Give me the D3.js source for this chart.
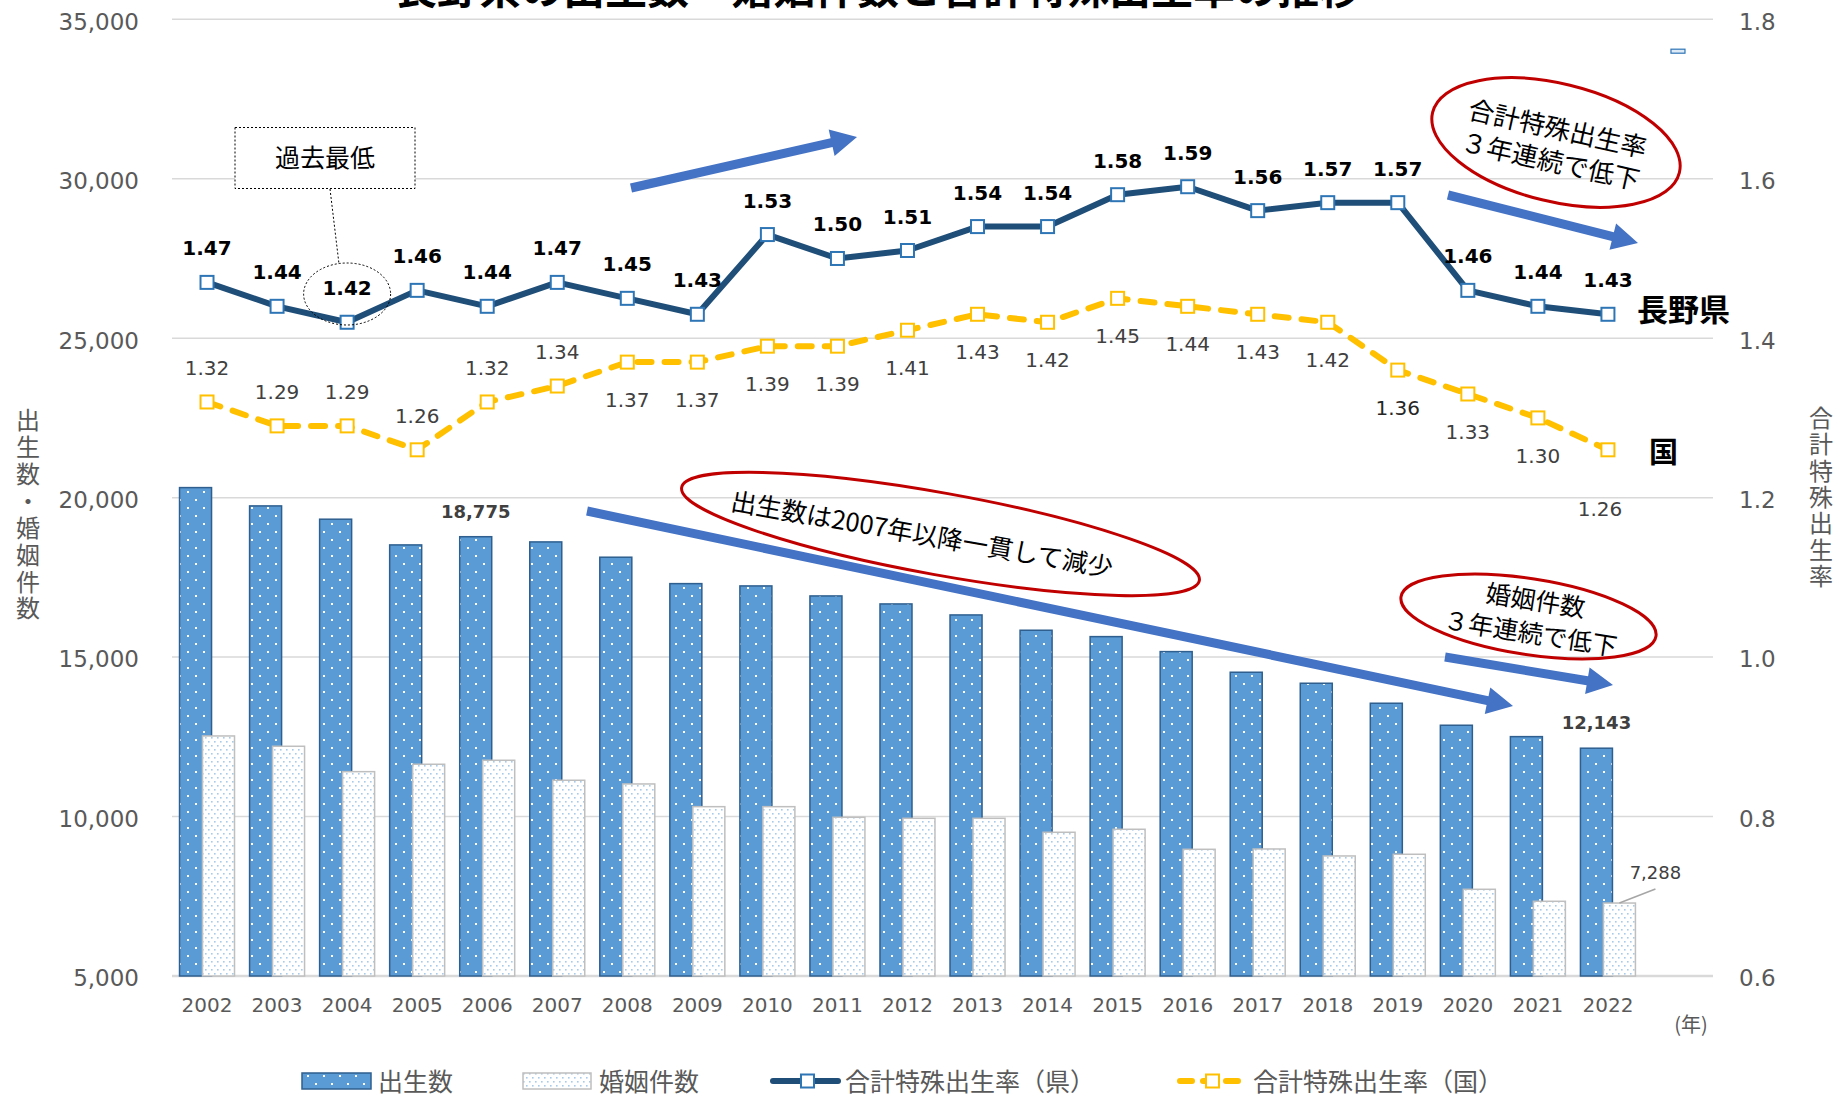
<!DOCTYPE html>
<html><head><meta charset="utf-8">
<script src="https://cdn.jsdelivr.net/npm/d3@7"></script>
<style>
html,body{margin:0;padding:0;background:#fff;}
svg{display:block;}
</style></head><body>
<svg id="chart" width="1845" height="1104"></svg>
<script>
// ---------------- data ----------------
const years = ["2002","2003","2004","2005","2006","2007","2008","2009","2010","2011","2012","2013","2014","2015","2016","2017","2018","2019","2020","2021","2022"];
const births = [20315,19741,19324,18518,18775,18612,18132,17304,17232,16918,16667,16322,15842,15642,15172,14525,14180,13553,12863,12506,12143];
const marriages = [12527,12204,11408,11640,11765,11138,11022,10310,10310,9977,9945,9945,9507,9601,8973,8983,8764,8817,7719,7343,7288];
const tfrPref = [1.47,1.44,1.42,1.46,1.44,1.47,1.45,1.43,1.53,1.50,1.51,1.54,1.54,1.58,1.59,1.56,1.57,1.57,1.46,1.44,1.43];
const tfrNation = [1.32,1.29,1.29,1.26,1.32,1.34,1.37,1.37,1.39,1.39,1.41,1.43,1.42,1.45,1.44,1.43,1.42,1.36,1.33,1.30,1.26];
const leftTicks = [5000,10000,15000,20000,25000,30000,35000];
const rightTicks = [0.6,0.8,1.0,1.2,1.4,1.6,1.8];
const seriesNames = ["出生数","婚姻件数","合計特殊出生率（県）","合計特殊出生率（国）"];
const titleText = "長野県の出生数・婚姻件数と合計特殊出生率の推移";
const leftTitle = "出生数・婚姻件数";
const rightTitle = "合計特殊出生率";
// placement of national labels: 1 = above point, 2 = below, 3 = far below
const nationPlace = [1,1,1,1,1,1,2,2,2,2,2,2,2,2,2,2,2,2,2,2,3];

// ---------------- setup ----------------
const JP = "'Noto Sans CJK JP', sans-serif";
const NUM = "'DejaVu Sans', Verdana, sans-serif";
const svg = d3.select("#chart");
const plot = {left:172, right:1713, top:19.3, bottom:976};
const cats = years.concat([""]);
const x = d3.scaleBand().domain(cats).range([plot.left, plot.right]);
const yL = d3.scaleLinear().domain([5000,35000]).range([plot.bottom, plot.top]);
const yR = d3.scaleLinear().domain([0.6,1.8]).range([plot.bottom, plot.top]);
const cx = d => x(d) + x.bandwidth()/2;
const barW = x.bandwidth()*0.457, off = x.bandwidth()*0.164;

// patterns
const defs = svg.append("defs");
const pB = defs.append("pattern").attr("id","pBirth").attr("patternUnits","userSpaceOnUse").attr("width",16).attr("height",16);
pB.append("rect").attr("width",16).attr("height",16).attr("fill","#5B9BD5");
pB.append("rect").attr("x",3).attr("y",3).attr("width",2).attr("height",2).attr("fill","#fff");
pB.append("rect").attr("x",11).attr("y",11).attr("width",2).attr("height",2).attr("fill","#fff");
const pM = defs.append("pattern").attr("id","pMarr").attr("patternUnits","userSpaceOnUse").attr("width",6).attr("height",8);
pM.append("rect").attr("width",6).attr("height",8).attr("fill","#fff");
pM.append("rect").attr("x",1).attr("y",1).attr("width",1.6).attr("height",1.6).attr("fill","#A9CBEA");
pM.append("rect").attr("x",4).attr("y",5).attr("width",1.6).attr("height",1.6).attr("fill","#A9CBEA");

// ---------------- title ----------------
svg.append("text").attr("x",878).attr("y",4).attr("text-anchor","middle")
  .attr("font-family",JP).attr("font-weight",700).attr("font-size",42).attr("fill","#000").text(titleText);

// ---------------- grid ----------------
svg.append("g").selectAll("line").data(leftTicks).join("line")
  .attr("x1",plot.left).attr("x2",plot.right)
  .attr("y1",d=>yL(d)).attr("y2",d=>yL(d))
  .attr("stroke","#D9D9D9").attr("stroke-width",d=>d===5000?2.5:1.5);

// ---------------- axes ----------------
const axL = svg.append("g").attr("transform",`translate(${plot.left},0)`)
  .call(d3.axisLeft(yL).tickValues(leftTicks).tickFormat(d3.format(",")).tickSize(0).tickPadding(33));
const axR = svg.append("g").attr("transform",`translate(${plot.right},0)`)
  .call(d3.axisRight(yR).tickValues(rightTicks).tickFormat(d3.format(".1f")).tickSize(0).tickPadding(26));
const axB = svg.append("g").attr("transform",`translate(0,${plot.bottom})`)
  .call(d3.axisBottom(x).tickValues(years).tickSize(0).tickPadding(22));
[axL,axR,axB].forEach(a=>{ a.select(".domain").remove();
  a.selectAll("text").attr("font-family",NUM).attr("fill","#595959"); });
axL.selectAll("text").attr("font-size",23).attr("dy","0.43em");
axR.selectAll("text").attr("font-size",23).attr("dy","0.43em");
axB.selectAll("text").attr("font-size",20).attr("dy","0.71em");

svg.append("text").attr("x",1691).attr("y",1032).attr("text-anchor","middle")
  .attr("font-family",JP).attr("font-size",20).attr("fill","#595959").text("(年)");

// axis titles (vertical writing)
svg.append("text").attr("x",28).attr("y",408)
  .style("writing-mode","vertical-rl").attr("letter-spacing",2.9)
  .attr("font-family",JP).attr("font-size",24).attr("fill","#595959").text(leftTitle);
svg.append("text").attr("x",1821).attr("y",406)
  .style("writing-mode","vertical-rl").attr("letter-spacing",2.3)
  .attr("font-family",JP).attr("font-size",24).attr("fill","#595959").text(rightTitle);

// ---------------- bars ----------------
svg.append("g").selectAll("rect").data(years).join("rect")
  .attr("x",d=>cx(d)-off-barW/2).attr("width",barW)
  .attr("y",(d,i)=>yL(births[i])).attr("height",(d,i)=>yL(5000)-yL(births[i]))
  .attr("fill","url(#pBirth)").attr("stroke","#2E5F8F").attr("stroke-width",1.5);
svg.append("g").selectAll("rect").data(years).join("rect")
  .attr("x",d=>cx(d)+off-barW/2).attr("width",barW)
  .attr("y",(d,i)=>yL(marriages[i])).attr("height",(d,i)=>yL(5000)-yL(marriages[i]))
  .attr("fill","url(#pMarr)").attr("stroke","#BFBFBF").attr("stroke-width",1.5);

// bar data labels
const fmt = d3.format(",");
[4,20].forEach(i=>{
  svg.append("text").attr("x",cx(years[i])-off).attr("y",yL(births[i])-19)
    .attr("text-anchor","middle").attr("font-family",NUM).attr("font-weight",700)
    .attr("font-size",18).attr("fill","#404040").text(fmt(births[i]));
});
{
  const i=20, bx=cx(years[i])+off, by=yL(marriages[i]);
  svg.append("line").attr("x1",bx).attr("y1",by).attr("x2",bx+36).attr("y2",by-14)
    .attr("stroke","#A6A6A6").attr("stroke-width",1.5);
  svg.append("text").attr("x",bx+36).attr("y",by-24).attr("text-anchor","middle")
    .attr("font-family",NUM).attr("font-size",18).attr("fill","#404040").text(fmt(marriages[i]));
}

// ---------------- lines ----------------
const lineGen = d3.line().x((d,i)=>cx(years[i])).y(d=>yR(d));
svg.append("path").datum(tfrNation).attr("d",lineGen).attr("fill","none")
  .attr("stroke","#FFC000").attr("stroke-width",6).attr("stroke-dasharray","14 13")
  .attr("stroke-linecap","round").attr("stroke-linejoin","round");
svg.append("path").datum(tfrPref).attr("d",lineGen).attr("fill","none")
  .attr("stroke","#1F4E79").attr("stroke-width",6).attr("stroke-linejoin","round");

svg.append("g").selectAll("rect").data(tfrNation).join("rect")
  .attr("x",(d,i)=>cx(years[i])-6.5).attr("y",d=>yR(d)-6.5).attr("width",13).attr("height",13)
  .attr("fill","#fff").attr("stroke","#FFC000").attr("stroke-width",2);
svg.append("g").selectAll("rect").data(tfrPref).join("rect")
  .attr("x",(d,i)=>cx(years[i])-6.5).attr("y",d=>yR(d)-6.5).attr("width",13).attr("height",13)
  .attr("fill","#fff").attr("stroke","#2E75B6").attr("stroke-width",2);

// stray marker in the empty category
svg.append("rect").attr("x",cx("")-7).attr("y",yR(1.76)-2).attr("width",14).attr("height",4)
  .attr("fill","#DEEBF7").attr("stroke","#2E75B6").attr("stroke-width",1.2);

// line labels
svg.append("g").selectAll("text").data(tfrPref).join("text")
  .attr("x",(d,i)=>cx(years[i])).attr("y",d=>yR(d)-27).attr("text-anchor","middle")
  .attr("font-family",NUM).attr("font-weight",700).attr("font-size",20).attr("fill","#000")
  .text(d=>d3.format(".2f")(d));
svg.append("g").selectAll("text").data(tfrNation).join("text")
  .attr("x",(d,i)=>cx(years[i]) - (nationPlace[i]===3?8:0))
  .attr("y",(d,i)=>yR(d)+(nationPlace[i]===1?-27:nationPlace[i]===2?45:66)).attr("text-anchor","middle")
  .attr("font-family",NUM).attr("font-size",20).attr("fill",(d,i)=>i===17?"#262626":"#404040")
  .text(d=>d3.format(".2f")(d));

// ---------------- annotations ----------------
const ann = svg.append("g");
// 過去最低 box
ann.append("rect").attr("x",235).attr("y",127.5).attr("width",180).attr("height",61)
  .attr("fill","#fff").attr("stroke","#000").attr("stroke-width",1).attr("stroke-dasharray","2 2");
ann.append("text").attr("x",325).attr("y",167).attr("text-anchor","middle")
  .attr("font-family",JP).attr("font-size",25).attr("fill","#000").text("過去最低");
ann.append("line").attr("x1",330).attr("y1",189).attr("x2",339).attr("y2",264)
  .attr("stroke","#000").attr("stroke-width",1).attr("stroke-dasharray","2 2");
ann.append("ellipse").attr("cx",cx("2004")).attr("cy",294).attr("rx",43.5).attr("ry",31)
  .attr("fill","none").attr("stroke","#000").attr("stroke-width",1).attr("stroke-dasharray","2 2");

function arrowPath(x1,y1,x2,y2,w,hl,hw){
  const dx=x2-x1, dy=y2-y1, len=Math.hypot(dx,dy);
  const ux=dx/len, uy=dy/len, px=-uy, py=ux;
  const bx=x2-ux*hl, by=y2-uy*hl;
  const pts=[[x1+px*w/2,y1+py*w/2],[bx+px*w/2,by+py*w/2],[bx+px*hw/2,by+py*hw/2],[x2,y2],
             [bx-px*hw/2,by-py*hw/2],[bx-px*w/2,by-py*w/2],[x1-px*w/2,y1-py*w/2]];
  return "M"+pts.map(p=>p.map(v=>v.toFixed(1)).join(",")).join("L")+"Z";
}
const arrows = [[631,188,857,137],[1448,195,1638,243],[587,511,1513,706],[1445,657,1613,685]];
ann.selectAll("path.arr").data(arrows).join("path").attr("class","arr")
  .attr("d",a=>arrowPath(a[0],a[1],a[2],a[3],9,26,27)).attr("fill","#4472C4");

// red ellipses with text
const ellipses = [
  {cx:1556,cy:142.5,rx:127,ry:59,rot:13.7, tx:1554,ty:145,trot:12.5,lines:["合計特殊出生率","３年連続で低下"],fs:26},
  {cx:940.5,cy:534,rx:263,ry:41,rot:10.2, tx:922,ty:534.5,trot:10,lines:["出生数は2007年以降一貫して減少"],fs:25.5},
  {cx:1528.5,cy:616.5,rx:129,ry:38,rot:8.8, tx:1533,ty:617,trot:9,lines:["婚姻件数","３年連続で低下"],fs:25}
];
ellipses.forEach(e=>{
  ann.append("ellipse").attr("cx",e.cx).attr("cy",e.cy).attr("rx",e.rx).attr("ry",e.ry)
    .attr("transform",`rotate(${e.rot} ${e.cx} ${e.cy})`)
    .attr("fill","none").attr("stroke","#C00000").attr("stroke-width",3);
  const g = ann.append("g").attr("transform",`translate(${e.tx},${e.ty}) rotate(${e.trot})`);
  const n = e.lines.length;
  e.lines.forEach((t,k)=>{
    g.append("text").attr("x",0).attr("y",(k-(n-1)/2)*33 + e.fs*0.36).attr("text-anchor","middle")
      .attr("font-family",JP).attr("font-size",e.fs).attr("fill","#000").text(t);
  });
});

// series end labels
ann.append("text").attr("x",1637).attr("y",321).attr("font-family",JP).attr("font-weight",700)
  .attr("font-size",31).attr("fill","#000").text("長野県");
ann.append("text").attr("x",1649).attr("y",463).attr("font-family",JP).attr("font-weight",700)
  .attr("font-size",29).attr("fill","#000").text("国");

// ---------------- legend ----------------
const leg = svg.append("g");
const ly = 1081;
leg.append("rect").attr("x",302).attr("y",ly-8).attr("width",69).attr("height",16)
  .attr("fill","url(#pBirth)").attr("stroke","#2E5F8F").attr("stroke-width",1.5);
leg.append("rect").attr("x",523).attr("y",ly-8).attr("width",68).attr("height",16)
  .attr("fill","url(#pMarr)").attr("stroke","#BFBFBF").attr("stroke-width",1.5);
leg.append("line").attr("x1",773).attr("x2",838).attr("y1",ly).attr("y2",ly)
  .attr("stroke","#1F4E79").attr("stroke-width",6).attr("stroke-linecap","round");
leg.append("rect").attr("x",801).attr("y",ly-6.5).attr("width",13).attr("height",13)
  .attr("fill","#fff").attr("stroke","#2E75B6").attr("stroke-width",2);
leg.append("line").attr("x1",1180).attr("x2",1240).attr("y1",ly).attr("y2",ly)
  .attr("stroke","#FFC000").attr("stroke-width",6).attr("stroke-linecap","round").attr("stroke-dasharray","12 11");
leg.append("rect").attr("x",1206).attr("y",ly-6.5).attr("width",13).attr("height",13)
  .attr("fill","#fff").attr("stroke","#FFC000").attr("stroke-width",2);
const legX = [378,599,845,1253];
leg.selectAll("text").data(seriesNames).join("text")
  .attr("x",(d,i)=>legX[i]).attr("y",ly+9.5)
  .attr("font-family",JP).attr("font-size",25).attr("fill","#595959").text(d=>d);
</script>
</body></html>
